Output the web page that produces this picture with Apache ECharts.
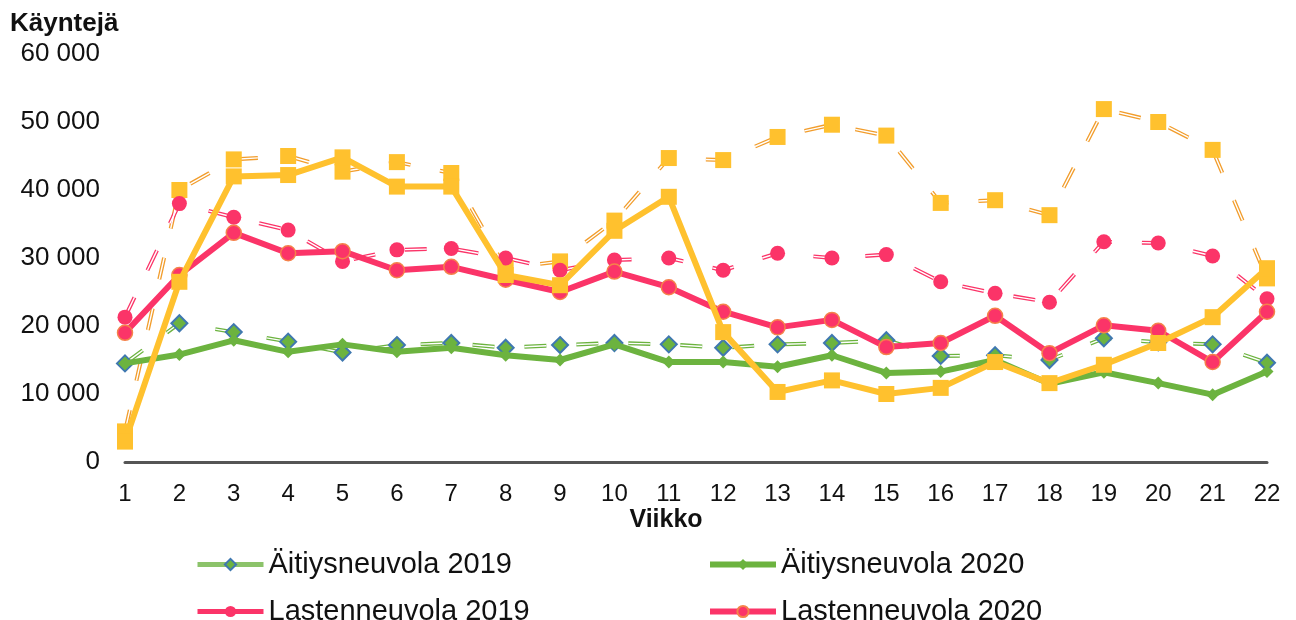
<!DOCTYPE html>
<html>
<head>
<meta charset="utf-8">
<script src="https://cdn.jsdelivr.net/npm/echarts@6/dist/echarts.min.js"></script>
<style>
  html, body { margin: 0; padding: 0; background: #fff; }
  #chart { width: 1296px; height: 620px; }
</style>
</head>
<body>
<div id="chart"></div>
<script>
// viikot
const weeks = ['1','2','3','4','5','6','7','8','9','10','11','12','13','14','15','16','17','18','19','20','21','22'];
const yTicks = [0, 10000, 20000, 30000, 40000, 50000, 60000];

const aitiys2019 = [14500, 20400, 19100, 17700, 16100, 17200, 17500, 16800, 17200, 17500, 17300, 16800, 17300, 17500, 17900, 15600, 15700, 15000, 18200, 17600, 17300, 14600];
const aitiys2020 = [14500, 15800, 17900, 16200, 17300, 16200, 16800, 15700, 15000, 17300, 14700, 14700, 14000, 15700, 13100, 13300, 15000, 11500, 13200, 11600, 9900, 13300];
const lasten2019 = [21300, 38000, 36000, 34100, 29500, 31200, 31400, 30000, 28200, 29700, 30000, 28200, 30700, 30000, 30500, 26500, 24800, 23500, 32400, 32200, 30300, 24000];
const lasten2020 = [19000, 27500, 33700, 30700, 31000, 28200, 28700, 26800, 25000, 28000, 25700, 22100, 19800, 20900, 16900, 17500, 21500, 16000, 20100, 19300, 14700, 22100];
// keltaiset sarjat (ei selitteessä)
const yellow2019 = [4500, 40000, 44500, 45000, 42700, 44100, 42500, 28500, 29500, 35500, 44700, 44400, 47800, 49600, 48000, 38100, 38500, 36300, 51900, 50000, 45900, 27000];
const yellow2020 = [3000, 26500, 42000, 42200, 44800, 40500, 40500, 27500, 26000, 34000, 39000, 19100, 10300, 12000, 10000, 10900, 14700, 11600, 14300, 17500, 21300, 28500];

const GREEN = '#6cb33f', PINK = '#fb3468', YELLOW = '#ffc12e', ORANGE = '#f29d2c';
const DASH = [22, 30];

// kaksoisviiva: paksu katkoviiva + valkoinen ohut päälle
function doubleLine(data, color, w) {
  return [
    { type: 'line', data: data, showSymbol: false, silent: true, z: 1,
      lineStyle: { color: color, width: w, type: DASH } },
    { type: 'line', data: data, showSymbol: false, silent: true, z: 2,
      lineStyle: { color: '#fff', width: 1.4, type: DASH } }
  ];
}
function markers(name, data, symbol, size, item) {
  return { name: name, type: 'line', data: data, symbol: symbol, symbolSize: size, z: 3,
    itemStyle: item, lineStyle: { opacity: 0 } };
}
function solid(name, data, color, symbol, size, item, z) {
  return { name: name, type: 'line', data: data, symbol: symbol, symbolSize: size, z: z,
    lineStyle: { color: color, width: 6 }, itemStyle: item };
}

function legendAt(left, top, name, color, dashed) {
  return {
    left: left, top: top, itemWidth: 66, itemHeight: 14, itemGap: 0,
    textStyle: { fontFamily: 'Liberation Sans', fontSize: 29, color: '#111' },
    data: [{ name: name, lineStyle: { color: color, width: dashed ? 5 : 6, opacity: 1, type: 'solid' } }]
  };
}

const chart = echarts.init(document.getElementById('chart'));
chart.setOption({
  animation: false,
  grid: { left: 125, right: 29, top: 54, bottom: 158 },
  graphic: [
    { type: 'text', left: 10, top: 11, style: { text: 'Käyntejä', font: 'bold 26px Liberation Sans', fill: '#111' } },
    { type: 'text', x: 666, y: 520, style: { text: 'Viikko', font: 'bold 25px Liberation Sans', fill: '#111', align: 'center', verticalAlign: 'middle' } }
  ],
  legend: [
    legendAt(190, 545, 'Äitiysneuvola 2019', '#8cc36a', true),
    legendAt(702, 545, 'Äitiysneuvola 2020', GREEN, false),
    legendAt(190, 592, 'Lastenneuvola 2019', PINK, true),
    legendAt(702, 592, 'Lastenneuvola 2020', PINK, false)
  ],
  xAxis: {
    type: 'category', data: weeks, boundaryGap: false,
    axisTick: { show: false },
    axisLine: { lineStyle: { color: '#555', width: 3 } },
    axisLabel: { fontFamily: 'Liberation Sans', fontSize: 24, color: '#111', margin: 20 }
  },
  yAxis: {
    type: 'value', min: yTicks[0], max: yTicks[yTicks.length - 1], interval: 10000,
    splitLine: { show: false }, axisLine: { show: false }, axisTick: { show: false },
    axisLabel: {
      fontFamily: 'Liberation Sans', fontSize: 26, color: '#111', margin: 25,
      formatter: v => v === 0 ? '0' : (v / 1000) + ' 000'
    }
  },
  series: [
    ...doubleLine(yellow2019, ORANGE, 4),
    ...doubleLine(lasten2019, PINK, 4),
    ...doubleLine(aitiys2019, GREEN, 4),
    { type: 'line', data: yellow2019, symbol: 'rect', symbolSize: 16, z: 3, silent: true,
      itemStyle: { color: YELLOW }, lineStyle: { opacity: 0 } },
    markers('Lastenneuvola 2019', lasten2019, 'circle', 15, { color: PINK }),
    markers('Äitiysneuvola 2019', aitiys2019, 'diamond', 16, { color: GREEN, borderColor: '#3f78b0', borderWidth: 2 }),
    solid('Äitiysneuvola 2020', aitiys2020, GREEN, 'diamond', 13, { color: GREEN }, 4),
    solid('Lastenneuvola 2020', lasten2020, PINK, 'circle', 15, { color: PINK, borderColor: '#f5824a', borderWidth: 1.5 }, 5),
    { type: 'line', data: yellow2020, symbol: 'rect', symbolSize: 16, z: 6,
      lineStyle: { color: YELLOW, width: 6 }, itemStyle: { color: YELLOW } }
  ]
});
</script>
</body>
</html>
